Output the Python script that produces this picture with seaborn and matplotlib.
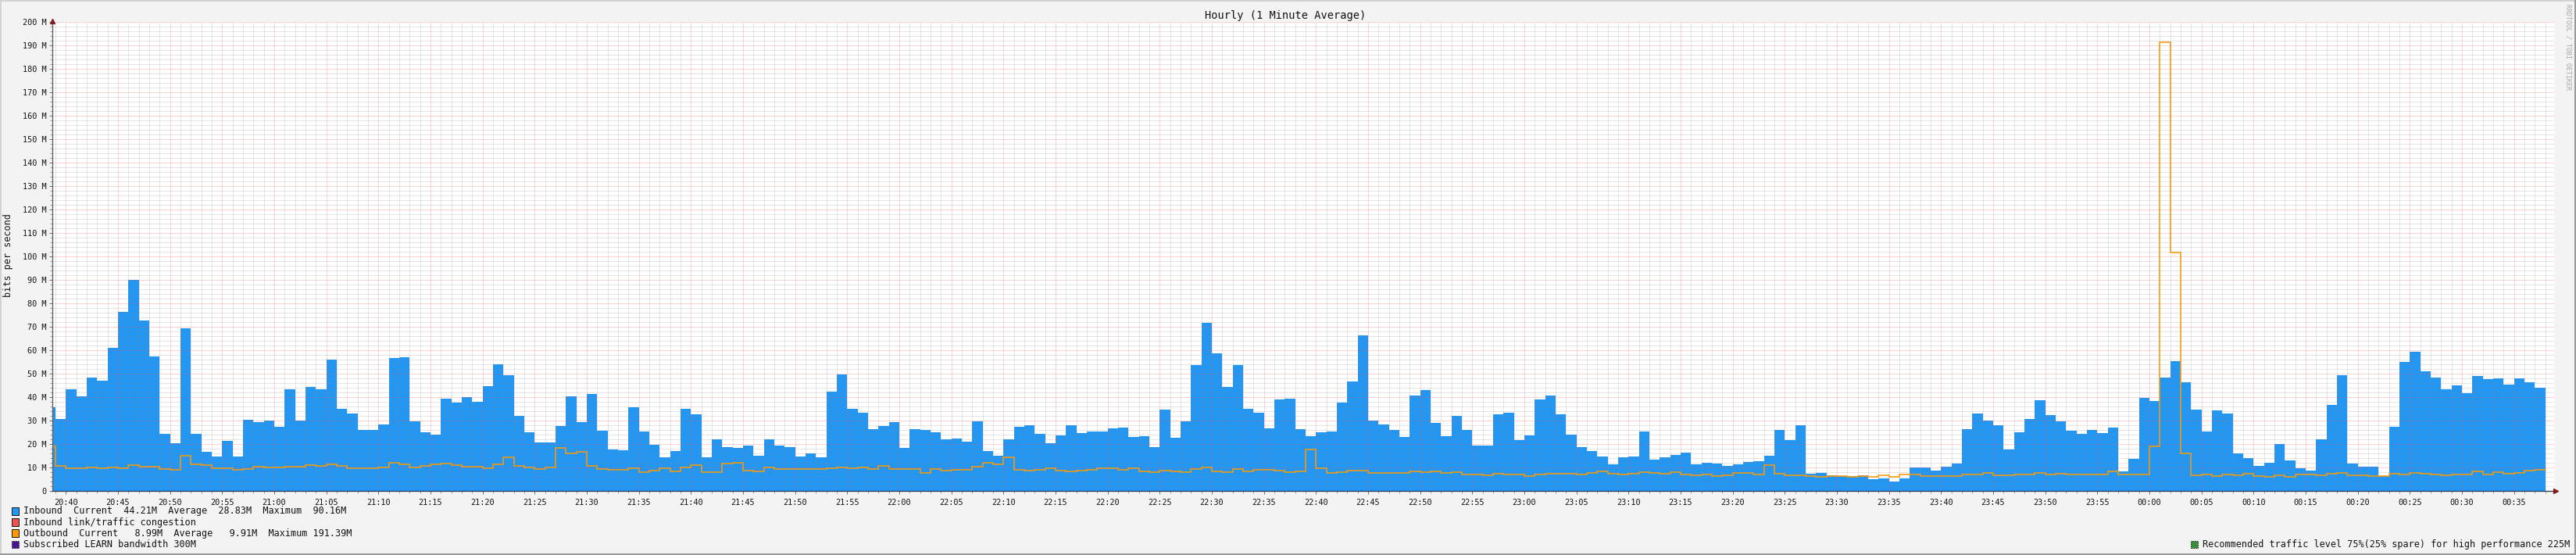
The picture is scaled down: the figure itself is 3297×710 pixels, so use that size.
import matplotlib
matplotlib.use("Agg")
import matplotlib.pyplot as plt
from matplotlib.patches import Rectangle
from matplotlib.ticker import MultipleLocator, FuncFormatter
import numpy as np
import pandas as pd
import seaborn as sns

# One value per minute, first minute is 20:38, last is 00:37 (millions of bits per second)
inbound_h20 = [35.8, 30.8, 43.4, 40.4, 48.4, 47.1, 61.1, 76.4, 90.1, 72.8, 57.4, 24.4, 20.4, 69.4, 24.4, 16.8, 14.8, 21.4, 14.8, 30.4, 29.4, 30.1]
inbound_h21 = [27.4, 43.4, 30.1, 44.4, 43.4, 56.1, 35.1, 33.1, 26.1, 26.1, 28.4, 56.8, 57.1, 29.8, 25.1,
               24.1, 39.4, 37.8, 40.1, 38.1, 44.8, 54.1, 49.4, 32.1, 25.1, 20.8, 20.8, 27.8, 40.4, 29.4,
               41.4, 25.8, 17.8, 17.4, 35.8, 25.4, 19.8, 14.4, 17.1, 35.1, 32.8, 14.4, 22.1, 18.8, 18.4,
               19.4, 15.1, 22.1, 19.4, 18.8, 14.8, 16.1, 14.4, 42.4, 49.8, 35.1, 33.4, 26.4, 27.8, 29.4]
inbound_h22 = [18.4, 26.4, 26.1, 25.1, 22.1, 22.4, 21.1, 29.8, 17.1, 15.1, 22.1, 27.4, 28.1, 24.4, 20.4,
               23.8, 28.1, 24.8, 25.4, 25.4, 26.8, 27.1, 23.1, 23.4, 18.8, 34.8, 22.8, 29.8, 53.8, 71.8,
               58.8, 44.4, 53.8, 35.1, 33.4, 26.8, 39.1, 39.4, 26.4, 23.4, 25.1, 25.4, 37.8, 46.8, 66.4,
               30.1, 28.4, 26.1, 23.1, 40.8, 43.1, 29.1, 23.4, 32.1, 26.1, 19.4, 19.4, 32.8, 33.4, 21.8]
inbound_h23 = [23.8, 39.1, 40.8, 32.8, 24.1, 18.8, 17.1, 14.8, 11.4, 14.4, 14.8, 25.4, 13.4, 14.4, 15.4,
               16.4, 11.4, 12.1, 11.8, 10.8, 11.4, 12.4, 12.8, 15.1, 26.1, 21.8, 28.1, 7.4, 7.8, 6.8,
               6.4, 6.4, 6.8, 5.1, 5.4, 4.1, 5.4, 10.1, 10.1, 8.8, 10.4, 11.8, 26.4, 33.1, 30.1,
               28.1, 17.8, 25.1, 30.8, 38.8, 32.4, 29.8, 25.8, 24.4, 26.1, 24.8, 27.1, 8.4, 13.8, 39.8]
inbound_h00 = [38.4, 48.4, 55.4, 46.4, 34.8, 25.4, 34.4, 33.1, 16.1, 14.1, 10.8, 12.1, 20.1, 13.1, 9.8,
               8.8, 22.1, 36.8, 49.4, 11.8, 10.4, 10.4, 6.4, 27.4, 55.1, 59.4, 51.1, 48.4, 43.4, 45.1,
               41.8, 49.1, 47.8, 48.1, 45.4, 48.1, 46.4, 44.2]

outbound_h20 = [19.0, 10.7, 9.7, 9.7, 10.0, 9.7, 10.0, 9.7, 11.0, 10.3, 10.3, 9.3, 9.0, 15.0, 11.3, 11.0, 9.7, 9.7, 9.0, 9.3, 10.3, 10.0]
outbound_h21 = [10.0, 10.3, 10.3, 11.0, 10.7, 11.3, 10.7, 9.7, 9.7, 9.7, 10.0, 12.0, 11.3, 10.0, 10.7,
                11.3, 11.7, 11.0, 10.3, 10.3, 9.7, 11.3, 14.3, 10.7, 10.0, 9.3, 10.0, 18.3, 16.0, 16.7,
                10.7, 9.3, 9.0, 9.0, 9.7, 8.0, 8.7, 9.7, 8.3, 10.0, 11.0, 8.0, 8.0, 11.7, 12.0,
                8.7, 8.3, 10.0, 9.3, 9.3, 9.3, 9.3, 9.3, 9.7, 10.0, 9.7, 10.0, 9.3, 10.7, 9.3]
outbound_h22 = [9.3, 9.3, 7.7, 9.3, 8.7, 9.0, 9.0, 10.3, 12.0, 11.3, 14.3, 9.0, 8.7, 9.0, 9.7,
                8.7, 8.3, 8.7, 9.0, 9.7, 9.7, 9.0, 9.7, 8.3, 8.0, 8.7, 8.3, 8.0, 9.3, 10.0,
                8.3, 8.0, 9.3, 8.3, 9.0, 9.0, 8.7, 8.0, 8.3, 17.7, 9.7, 7.7, 8.0, 8.7, 8.7,
                7.7, 7.7, 7.7, 7.7, 8.3, 8.0, 8.3, 7.7, 8.0, 7.0, 7.0, 6.7, 7.3, 7.0, 7.0]
outbound_h23 = [6.3, 7.0, 7.3, 7.3, 7.3, 7.0, 7.7, 8.3, 7.3, 7.0, 7.3, 8.0, 7.7, 7.3, 8.0,
                7.0, 6.7, 7.0, 6.3, 6.7, 7.7, 7.7, 7.0, 11.0, 7.3, 6.7, 6.7, 6.3, 6.0, 6.3,
                6.3, 6.0, 6.3, 6.0, 6.7, 6.0, 7.0, 7.0, 6.3, 6.3, 6.3, 6.3, 7.0, 7.0, 7.7,
                6.7, 6.7, 7.0, 7.0, 7.7, 7.0, 7.3, 7.0, 7.0, 7.0, 7.0, 8.3, 7.0, 7.0, 7.0]
outbound_h00 = [19.0, 191.4, 101.7, 16.0, 6.7, 7.0, 6.3, 7.0, 6.7, 7.3, 6.3, 6.0, 6.7, 6.0, 7.0,
                7.0, 6.7, 7.3, 7.7, 6.7, 6.7, 6.3, 6.3, 7.3, 7.0, 7.7, 7.3, 7.0, 6.7, 7.0,
                7.0, 8.3, 7.0, 8.0, 7.3, 7.7, 8.7, 9.0]

inbound = inbound_h20 + inbound_h21 + inbound_h22 + inbound_h23 + inbound_h00
outbound = outbound_h20 + outbound_h21 + outbound_h22 + outbound_h23 + outbound_h00
assert len(inbound) == 240 and len(outbound) == 240

start_hour, start_minute = 20, 38
title = "Hourly (1 Minute Average)"
y_title = "bits per second"
watermark = "RRDTOOL / TOBI OETIKER"
legend_left = [
    ("#2196F3", "solid", "Inbound  Current  44.21M  Average  28.83M  Maximum  90.16M"),
    ("#EF5350", "solid", "Inbound link/traffic congestion"),
    ("#FF9800", "solid", "Outbound  Current   8.99M  Average   9.91M  Maximum 191.39M"),
    ("#4A148C", "dashed", "Subscribed LEARN bandwidth 300M"),
]
legend_right = ("#388E3C", "dashed", "Recommended traffic level 75%(25% spare) for high performance 225M")

W, H = 3297, 710
sns.set_theme(style="white", rc={"lines.scale_dashes": True})
plt.rcParams["font.family"] = ["DejaVu Sans Mono"]
BG = "#F3F3F3"
TXT = "#141414"

fig = plt.figure(figsize=(W / 100, H / 100), dpi=100, facecolor=BG)
px_left, px_right, px_top, px_bottom = 66.5, 3268.5, 28.3, 628.3
ax = fig.add_axes([px_left / W, 1 - px_bottom / H, (px_right - px_left) / W, (px_bottom - px_top) / H], facecolor="white")

minutes = np.arange(len(inbound))
df = pd.DataFrame({"minute": minutes + 0.5, "inbound": inbound})

sns.histplot(data=df, x="minute", weights="inbound", bins=list(range(len(inbound) + 1)),
             element="step", fill=True, color="#2196F3", alpha=1, linewidth=0, ax=ax, zorder=1)

step = pd.DataFrame({"minute": np.append(minutes, len(minutes)), "outbound": outbound + outbound[-1:]})
sns.lineplot(data=step, x="minute", y="outbound", drawstyle="steps-post", estimator=None, sort=False,
             color="#F59A0C", linewidth=1.15, ax=ax, zorder=3, solid_joinstyle="miter")

x_first = 2 - (84.3 - px_left) / 13.333
x_last = x_first + (px_right - px_left) / 13.333
ax.set_xlim(x_first, x_last)
ax.set_ylim(0, 200)


def fmt_time(v, pos):
    total = (start_hour * 60 + start_minute + int(round(v))) % 1440
    return f"{total // 60:02d}:{total % 60:02d}"


def fmt_y(v, pos):
    return "0" if v == 0 else f"{int(v)} M"


ax.xaxis.set_major_locator(MultipleLocator(5, offset=2))
ax.xaxis.set_minor_locator(MultipleLocator(1))
ax.yaxis.set_major_locator(MultipleLocator(10))
ax.yaxis.set_minor_locator(MultipleLocator(2))
ax.xaxis.set_major_formatter(FuncFormatter(fmt_time))
ax.yaxis.set_major_formatter(FuncFormatter(fmt_y))
ax.set_xlabel("")
ax.set_ylabel("")

ax.set_axisbelow(False)
dots = (0, (1, 1))
ax.grid(which="minor", color="#8C8C8C", alpha=0.42, linewidth=0.72, linestyle=dots)
ax.grid(which="major", color="#FF5050", alpha=0.5, linewidth=0.72, linestyle=dots)

ax.tick_params(axis="both", which="major", length=3, width=0.72, color="#707070", labelcolor=TXT, labelsize=7.35,
               bottom=True, left=True, pad=2)
ax.tick_params(axis="x", which="major", pad=4)
ax.tick_params(axis="both", which="minor", length=2, width=0.72, color="#A0A0A0", bottom=True, left=True)

for side in ("top", "right"):
    ax.spines[side].set_visible(False)
ax.spines["left"].set_color("#5A5A5A")
ax.spines["left"].set_linewidth(0.9)
ax.spines["bottom"].set_color("#2A3A55")
ax.spines["bottom"].set_linewidth(0.9)
ax.spines["left"].set_zorder(5)
ax.spines["bottom"].set_zorder(5)

# Axis arrows
arrow = "#7F1D1D"
ax.plot([0], [1.002], marker="^", markersize=4, color=arrow, transform=ax.transAxes, clip_on=False, zorder=6)
ax.plot([1.0008], [0], marker=">", markersize=4, color=arrow, transform=ax.transAxes, clip_on=False, zorder=6)


def fx(px):
    return px / W


def fy(py):
    return 1 - py / H


def text(px, py, s, **kw):
    kw.setdefault("color", TXT)
    kw.setdefault("fontsize", 8.5)
    kw.setdefault("va", "center")
    kw.setdefault("ha", "left")
    return fig.text(fx(px), fy(py), s, **kw)


def swatch(px, py, color, style):
    size_w, size_h = 9, 9.5
    rect = Rectangle((fx(px), fy(py + size_h / 2)), size_w / W, size_h / H, transform=fig.transFigure,
                     facecolor=color, edgecolor="#1A1A1A", linewidth=0.72,
                     linestyle=(0, (1.5, 1.5)) if style == "dashed" else "solid", zorder=3)
    fig.add_artist(rect)


text(1645, 20, title, ha="center", fontsize=9.8)
text(10.5, 327, y_title, rotation=90, ha="center")
text(3287.5, 5, watermark, rotation=270, ha="center", va="top", fontsize=6.0, color="#A8A8A8")

for i, (c, st, s) in enumerate(legend_left):
    py = 654 + i * 14.1
    swatch(15.2, py, c, st)
    text(30, py, s)

c, st, s = legend_right
swatch(2804.3, 696.3, c, st)
text(2819, 696.3, s)

# Canvas frame: light top and left, dark right and bottom
for rect in [
    (0, 0, 2, H, "#D2D2D2"), (0, 0, W, 2, "#D2D2D2"),
    (W - 2, 0, 2, H, "#9A9A9A"), (0, H - 2, W, 2, "#9A9A9A"),
]:
    x, y, w, h, col = rect
    fig.add_artist(Rectangle((x / W, 1 - (y + h) / H), w / W, h / H, transform=fig.transFigure,
                             facecolor=col, edgecolor="none", zorder=4))

fig.savefig("out.png", dpi=100, facecolor=BG)
